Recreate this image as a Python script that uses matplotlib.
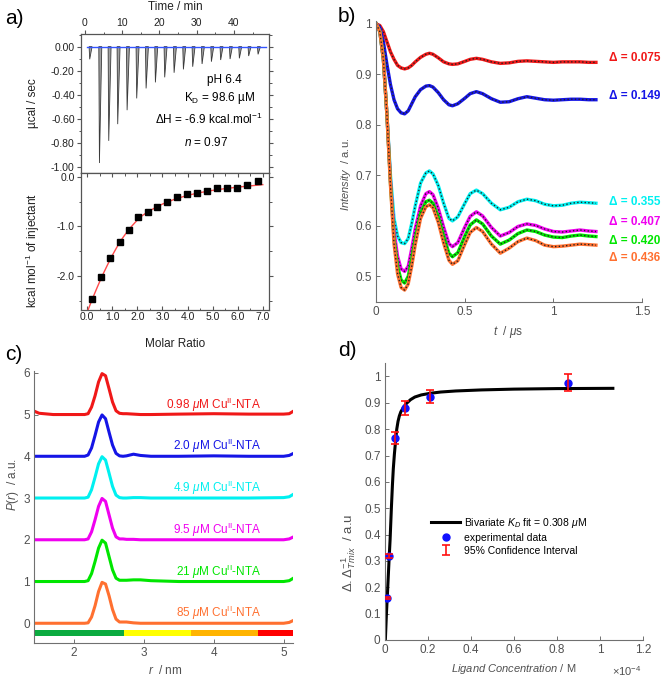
import numpy as np
import matplotlib
matplotlib.use('Agg')
import matplotlib.pyplot as plt
from matplotlib.ticker import MultipleLocator, FormatStrFormatter, FuncFormatter

plt.rcParams['font.family'] = ['Liberation Sans', 'DejaVu Sans']
plt.rcParams['mathtext.fontset'] = 'custom'
plt.rcParams['mathtext.rm'] = 'Liberation Sans'
plt.rcParams['mathtext.it'] = 'Liberation Sans:italic'
plt.rcParams['mathtext.bf'] = 'Liberation Sans:bold'
plt.rcParams['axes.unicode_minus'] = False

# ---- a) ITC ----
itc_time = [1.15, 3.76, 6.26, 8.67, 11.19, 13.77, 16.29, 18.79, 21.29, 23.81,
            26.31, 28.81, 31.32, 33.83, 36.32, 38.84, 41.34, 43.84, 46.36]
itc_peak = [-0.105, -0.967, -0.783, -0.644, -0.528, -0.43, -0.347, -0.297, -0.255, -0.217,
            -0.189, -0.167, -0.144, -0.125, -0.111, -0.103, -0.097, -0.078, -0.064]
molar_ratio = [0.19, 0.56, 0.92, 1.29, 1.66, 2.02, 2.42, 2.80, 3.19, 3.59,
               3.98, 4.38, 4.77, 5.17, 5.57, 5.96, 6.39, 6.80]
heat = [-2.46, -2.01, -1.63, -1.32, -1.07, -0.82, -0.71, -0.61, -0.50, -0.40,
        -0.35, -0.32, -0.28, -0.23, -0.22, -0.22, -0.16, -0.09]
fit_ratio = [0.0, 0.2, 0.4, 0.6, 0.8, 1.0, 1.2, 1.4, 1.6, 1.8, 2.0, 2.2, 2.5,
             3.0, 3.5, 4.0, 4.5, 5.0, 5.5, 6.0, 6.5, 7.0]
fit_heat = [-2.72, -2.46, -2.22, -1.99, -1.78, -1.58, -1.40, -1.24, -1.10, -0.98, -0.87,
            -0.78, -0.68, -0.55, -0.45, -0.375, -0.32, -0.275, -0.24, -0.21, -0.185, -0.16]

# ---- b) DEER traces ----
deer_t = [0, 0.02, 0.04, 0.06, 0.08, 0.10, 0.12, 0.14, 0.16, 0.18, 0.20, 0.22, 0.25,
          0.28, 0.30, 0.32, 0.35, 0.38, 0.41, 0.43, 0.46, 0.50, 0.53, 0.565, 0.60,
          0.65, 0.70, 0.75, 0.80, 0.85, 0.90, 0.95, 1.00, 1.05, 1.10, 1.15, 1.20, 1.24]
deer_red = [1.0, 0.997, 0.985, 0.965, 0.945, 0.93, 0.918, 0.913, 0.911, 0.913, 0.918, 0.925,
            0.934, 0.940, 0.942, 0.940, 0.933, 0.925, 0.921, 0.920, 0.921, 0.926, 0.930,
            0.932, 0.930, 0.925, 0.922, 0.923, 0.926, 0.927, 0.926, 0.925, 0.924, 0.925,
            0.925, 0.925, 0.924, 0.924]
deer_blue = [1.0, 0.993, 0.965, 0.92, 0.88, 0.85, 0.832, 0.824, 0.822, 0.828, 0.842, 0.856,
             0.870, 0.877, 0.878, 0.875, 0.864, 0.850, 0.840, 0.838, 0.842, 0.853, 0.862,
             0.866, 0.862, 0.852, 0.845, 0.846, 0.852, 0.856, 0.853, 0.850, 0.849, 0.850,
             0.851, 0.851, 0.850, 0.850]
deer_cyan = [1.0, 0.985, 0.93, 0.82, 0.70, 0.615, 0.58, 0.567, 0.565, 0.575, 0.605, 0.64,
             0.685, 0.705, 0.709, 0.703, 0.68, 0.645, 0.615, 0.610, 0.618, 0.645, 0.664,
             0.671, 0.664, 0.645, 0.632, 0.637, 0.648, 0.653, 0.650, 0.643, 0.640, 0.641,
             0.645, 0.647, 0.646, 0.645]
deer_magenta = [1.0, 0.985, 0.93, 0.82, 0.69, 0.59, 0.54, 0.515, 0.51, 0.52, 0.555, 0.595,
                0.640, 0.664, 0.668, 0.662, 0.635, 0.598, 0.565, 0.559, 0.567, 0.598, 0.619,
                0.628, 0.620, 0.597, 0.580, 0.587, 0.599, 0.604, 0.601, 0.594, 0.589, 0.588,
                0.590, 0.592, 0.590, 0.589]
deer_green = [1.0, 0.985, 0.93, 0.82, 0.685, 0.575, 0.52, 0.493, 0.487, 0.50, 0.535, 0.575,
              0.625, 0.648, 0.651, 0.645, 0.618, 0.580, 0.546, 0.539, 0.547, 0.580, 0.602,
              0.612, 0.604, 0.580, 0.564, 0.572, 0.585, 0.592, 0.589, 0.582, 0.578, 0.577,
              0.580, 0.582, 0.580, 0.579]
deer_orange = [1.0, 0.985, 0.93, 0.82, 0.68, 0.565, 0.505, 0.478, 0.473, 0.485, 0.52, 0.563,
               0.615, 0.638, 0.642, 0.636, 0.607, 0.566, 0.532, 0.524, 0.531, 0.564, 0.587,
               0.597, 0.589, 0.564, 0.546, 0.556, 0.569, 0.576, 0.571, 0.562, 0.559, 0.560,
               0.562, 0.564, 0.563, 0.562]
deer_labels = ['0.075', '0.149', '0.355', '0.407', '0.420', '0.436']

# ---- c) distance distributions ----
pr_r = [1.43, 1.5, 1.7, 2.0, 2.15, 2.2, 2.25, 2.3, 2.35, 2.4, 2.45, 2.5, 2.55, 2.6, 2.65,
        2.7, 2.75, 2.85, 2.95, 3.1, 3.5, 4.0, 4.5, 5.0, 5.08, 5.13]
pr_red = [0.08, 0.03, 0.0, 0.0, 0.0, 0.02, 0.18, 0.45, 0.78, 0.98, 0.93, 0.62, 0.30, 0.09,
          0.03, 0.02, 0.02, 0.01, 0.0, 0.0, 0.01, 0.02, 0.01, 0.01, 0.02, 0.07]
pr_blue = [0.0, 0.0, 0.0, 0.0, 0.0, 0.03, 0.20, 0.50, 0.82, 0.99, 0.90, 0.58, 0.27, 0.07,
           0.01, 0.0, 0.01, 0.05, 0.02, 0.0, 0.0, 0.01, 0.0, 0.0, 0.02, 0.06]
pr_cyan = [0.0, 0.0, 0.0, 0.0, 0.0, 0.02, 0.20, 0.50, 0.82, 0.99, 0.91, 0.60, 0.28, 0.07,
           0.01, 0.0, 0.0, 0.01, 0.01, 0.0, 0.0, 0.0, 0.0, 0.01, 0.03, 0.08]
pr_magenta = [0.0, 0.0, 0.0, 0.0, 0.0, 0.02, 0.19, 0.48, 0.80, 0.99, 0.92, 0.60, 0.28, 0.07,
              0.02, 0.02, 0.01, 0.01, 0.0, 0.0, 0.0, 0.0, 0.0, 0.0, 0.02, 0.06]
pr_green = [0.0, 0.0, 0.0, 0.0, 0.0, 0.02, 0.19, 0.48, 0.80, 0.99, 0.92, 0.60, 0.28, 0.08,
            0.03, 0.03, 0.03, 0.04, 0.04, 0.02, 0.0, 0.0, 0.0, 0.0, 0.02, 0.07]
pr_orange = [0.0, 0.0, 0.0, 0.0, 0.0, 0.01, 0.15, 0.42, 0.76, 0.98, 0.94, 0.66, 0.33, 0.10,
             0.03, 0.03, 0.03, 0.01, 0.0, 0.0, 0.0, 0.0, 0.0, 0.0, 0.02, 0.06]
pr_conc = ['0.98', '2.0', '4.9', '9.5', '21', '85']
bar_edges = [1.43, 2.72, 3.68, 4.64, 5.13]
bar_colors = ['#0bab3f', '#ffff00', '#ffb400', '#ff0000']

# ---- d) binding curve ----
conc_uM = [0.98, 2.0, 4.9, 9.5, 21, 85]
frac = [0.161, 0.319, 0.765, 0.880, 0.924, 0.977]
frac_err = [0.004, 0.009, 0.023, 0.028, 0.025, 0.032]
fit_conc_uM = [0.3, 0.8, 1.24, 2.0, 2.5, 3.1, 3.6, 4.0, 4.5, 5.0, 5.6, 6.2, 6.8, 7.5, 8.5,
               9.5, 10.4, 12, 14, 17, 21, 26, 33, 45, 60, 80, 106]
fit_frac = [0.0, 0.10, 0.17, 0.30, 0.38, 0.50, 0.59, 0.65, 0.705, 0.75, 0.80, 0.83, 0.85,
            0.866, 0.88, 0.892, 0.90, 0.912, 0.922, 0.930, 0.936, 0.941, 0.945, 0.949,
            0.952, 0.954, 0.955]

colors = ['#f01818', '#1515e6', '#00f0f0', '#f000f0', '#00e600', '#ff7030']

W, H = 666, 678
def box(l, t, r, b):
    return [l / W, 1 - b / H, (r - l) / W, (b - t) / H]

def ftext(x, y, s, **kw):
    fig.text(x / W, 1 - y / H, s, ha='center', va='center', **kw)

fig = plt.figure(figsize=(6.66, 6.78), dpi=100)

# ---------------- panel a ----------------
ak = '#555555'
a1 = fig.add_axes(box(81, 34, 269.3, 173))
for t, d in zip(itc_time, itc_peak):
    a1.fill([t - 0.05, t + 0.12, t + 0.75], [0, d, 0], facecolor='#a0a0a0',
            edgecolor='#3a3a3a', lw=0.6)
a1.plot([0.6, 48.6], [0, 0], color='#3355ff', lw=1.0)
a1.set_xlim(-1.07, 49.5)
a1.set_ylim(-1.05, 0.105)
a1.xaxis.set_major_locator(MultipleLocator(10))
a1.xaxis.set_minor_locator(MultipleLocator(5))
a1.yaxis.set_major_locator(MultipleLocator(0.2))
a1.yaxis.set_minor_locator(MultipleLocator(0.1))
a1.yaxis.set_major_formatter(FormatStrFormatter('%.2f'))
a1.tick_params(axis='x', which='both', top=True, bottom=False, labeltop=True,
               labelbottom=False, direction='out')
a1.tick_params(axis='y', which='both', left=True, right=True, direction='out')
a1.text(0.759, 0.669, 'pH 6.4', transform=a1.transAxes, ha='center', va='center', fontsize=8.5)
a1.text(0.738, 0.537, r'K$_\mathrm{D}$ = 98.6 µM', transform=a1.transAxes, ha='center',
        va='center', fontsize=8.5)
a1.text(0.680, 0.386, r'ΔH = -6.9 kcal.mol$^{\mathrm{-1}}$', transform=a1.transAxes,
        ha='center', va='center', fontsize=8.5)
a1.text(0.664, 0.218, r'$n$ = 0.97', transform=a1.transAxes, ha='center', va='center',
        fontsize=8.5)

a2 = fig.add_axes(box(81, 173, 269.3, 310))
a2.plot(fit_ratio, fit_heat, color='#ff4a4a', lw=1.0)
a2.plot(molar_ratio, heat, 's', color='black', ms=4)
a2.set_xlim(-0.25, 7.26)
a2.set_ylim(-2.68, 0.074)
a2.xaxis.set_major_locator(MultipleLocator(1))
a2.xaxis.set_minor_locator(MultipleLocator(0.5))
a2.yaxis.set_major_locator(MultipleLocator(1))
a2.yaxis.set_minor_locator(MultipleLocator(0.5))
a2.xaxis.set_major_formatter(FormatStrFormatter('%.1f'))
a2.yaxis.set_major_formatter(FormatStrFormatter('%.1f'))
a2.tick_params(axis='x', which='both', top=True, bottom=True, direction='in')
a2.tick_params(axis='y', which='both', left=True, right=True, direction='out')
for ax in (a1, a2):
    ax.tick_params(which='major', length=3, width=0.8, labelsize=7.5, color=ak,
                   labelcolor='#222222', pad=1.5)
    ax.tick_params(which='minor', length=1.8, width=0.7, color=ak)
    for s in ax.spines.values():
        s.set_color(ak)
        s.set_linewidth(0.9)

ftext(175, 7, 'Time / min', fontsize=8.5, color='#222222')
ftext(33, 103, 'µcal / sec', fontsize=8.5, color='#222222', rotation=90)
ftext(33, 251, r'kcal mol$^{\mathrm{-1}}$ of injectant', fontsize=8.5, color='#222222',
      rotation=90)
ftext(175, 344, 'Molar Ratio', fontsize=8.5, color='#222222')

# ---------------- MATLAB style panels ----------------
mk = '#505050'
def matlab_style(ax):
    for s in ('top', 'right'):
        ax.spines[s].set_visible(False)
    for s in ('left', 'bottom'):
        ax.spines[s].set_color('#707070')
        ax.spines[s].set_linewidth(0.8)
    ax.tick_params(direction='in', length=3, width=0.7, color='#707070',
                   labelsize=8.5, labelcolor=mk, pad=3)

# panel b
b = fig.add_axes(box(376.3, 20.7, 642, 301.7))
deer_sets = [deer_red, deer_blue, deer_cyan, deer_magenta, deer_green, deer_orange]
for vals, c in zip(deer_sets, colors):
    b.plot(deer_t, vals, color=c, lw=2.4)
    b.plot(deer_t, vals, ':', color='#222222', lw=1.0)
label_y = [0.932, 0.857, 0.647, 0.607, 0.570, 0.536]
for lab, ly, c in zip(deer_labels, label_y, colors):
    b.text(1.314, ly, 'Δ = ' + lab, color=c, fontsize=8.5, fontweight='bold',
           ha='left', va='center', clip_on=False)
b.set_xlim(0, 1.5)
b.set_ylim(0.45, 1.0065)
b.set_xticks([0, 0.5, 1, 1.5])
b.set_yticks([0.5, 0.6, 0.7, 0.8, 0.9, 1])
b.xaxis.set_major_formatter(FuncFormatter(lambda v, p: '%g' % v))
b.yaxis.set_major_formatter(FuncFormatter(lambda v, p: '%g' % v))
matlab_style(b)
ftext(346, 174, r'$Intensity$  / a.u.', fontsize=8, color=mk, rotation=90)
ftext(508, 332, r'$t$  / $\mu$s', fontsize=8.5, color=mk)

# panel c
cax = fig.add_axes(box(34.3, 370.7, 292.7, 643.3))
pr_sets = [pr_red, pr_blue, pr_cyan, pr_magenta, pr_green, pr_orange]
for i, (vals, c, lab) in enumerate(zip(pr_sets, colors, pr_conc)):
    off = 5 - i
    cax.plot(pr_r, np.array(vals) + off, color=c, lw=2.2)
    cax.text(4.68, off + 0.24, lab + r' $\mu$M Cu$^{\mathrm{II}}$-NTA', color=c,
             fontsize=8.5, ha='right', va='center')
segs = [(bar_edges[k], bar_edges[k + 1] - bar_edges[k]) for k in range(len(bar_colors))]
cax.broken_barh(segs, (-0.30, 0.14), facecolors=bar_colors)
cax.set_xlim(1.43, 5.13)
cax.set_ylim(-0.48, 6.05)
cax.set_xticks([2, 3, 4, 5])
cax.set_yticks(range(7))
matlab_style(cax)
ftext(13, 484, r'$P(r)$  / a.u.', fontsize=8.5, color=mk, rotation=90)
ftext(165, 671, r'$r$  / nm', fontsize=8.5, color=mk)

# panel d
d = fig.add_axes(box(384.7, 363.3, 643, 640))
conc = np.array(conc_uM) * 1e-6
fit_conc = np.array(fit_conc_uM) * 1e-6
d.plot(fit_conc, fit_frac, color='black', lw=2.2,
       label=r'Bivariate $K_D$ fit = 0.308 $\mu$M')
d.plot(conc, frac, 'o', color='#1010ff', ms=5, label='experimental data', zorder=3)
d.errorbar(conc, frac, yerr=frac_err, fmt='none', ecolor='#ff1010', elinewidth=1.2,
           capsize=3, capthick=1.2, label='95% Confidence Interval', zorder=4)
d.set_xlim(0, 1.2e-4)
d.set_ylim(0, 1.05)
d.set_xticks(np.arange(7) * 0.2e-4)
d.set_yticks(np.arange(11) * 0.1)
d.xaxis.set_major_formatter(FuncFormatter(lambda v, p: '%g' % round(v * 1e4, 6)))
d.yaxis.set_major_formatter(FuncFormatter(lambda v, p: '%g' % round(v, 6)))
matlab_style(d)
d.legend(loc='upper left', bbox_to_anchor=(0.165, 0.465), frameon=False, fontsize=7.5,
         handlelength=2.7, handletextpad=0.4, labelspacing=0.3, borderaxespad=0)
ftext(349, 553, r'$\Delta . \Delta^{\mathit{-1}}_{Tmix}$  / a.u', fontsize=9.5, color=mk,
      rotation=90)
ftext(514, 669, r'$Ligand\ Concentration$ / M', fontsize=8, color=mk)
ftext(627, 671, r'$\times$10$^{\mathrm{-4}}$', fontsize=8, color=mk)

# panel letters
ftext(14, 18, 'a)', fontsize=15)
ftext(347, 16, 'b)', fontsize=15)
ftext(14, 354, 'c)', fontsize=15)
ftext(347, 351, 'd)', fontsize=15)

fig.savefig('out.png', dpi=100)
